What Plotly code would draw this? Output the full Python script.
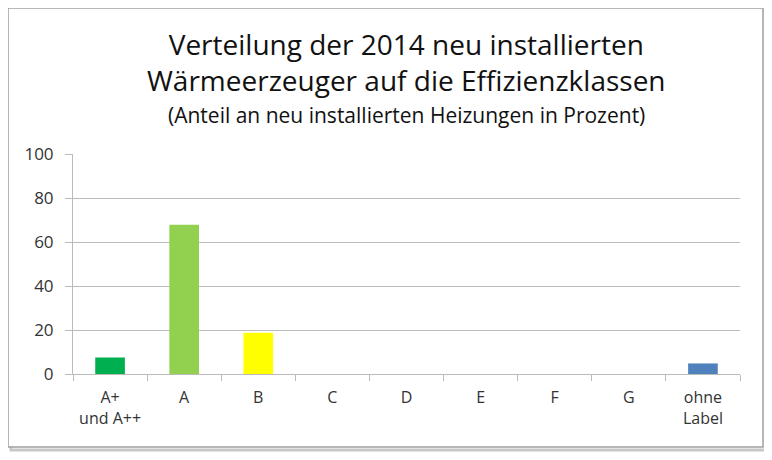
import plotly.graph_objects as go

klassen = ["A+<br>und A++", "A", "B", "C", "D", "E", "F", "G", "ohne<br>Label"]
anteil = [7.5, 67.8, 18.8, 0, 0, 0, 0, 0, 4.8]
farben = ["#00B050", "#92D050", "#FFFF00", "#4F81BD", "#4F81BD", "#4F81BD", "#4F81BD", "#4F81BD", "#4F81BD"]

titel = "Verteilung der 2014 neu installierten<br>Wärmeerzeuger auf die Effizienzklassen"
untertitel = "(Anteil an neu installierten Heizungen in Prozent)"

font_fam = "Open Sans, Arial, sans-serif"

# Seite hat 8px Rand -> Figur etwas kleiner, Koordinaten um 8 verschoben
W, H = 764, 452
L, T, PH = 65, 146, 220
R = 32
PW = W - L - R

fig = go.Figure(go.Bar(x=klassen, y=anteil, marker_color=farben, marker_line_width=0))

fig.update_layout(
    width=W, height=H,
    margin=dict(l=L, r=R, t=T, b=H - T - PH),
    paper_bgcolor="white", plot_bgcolor="white",
    bargap=0.6, showlegend=False,
    font=dict(family=font_fam, size=15, color="#333333"),
)
fig.update_yaxes(
    range=[0, 100], dtick=20, showgrid=True, gridcolor="#BBBBBB", gridwidth=1,
    showline=True, linecolor="#BBBBBB", ticks="outside", ticklen=7, tickcolor="#BBBBBB",
    zeroline=False, tickfont=dict(size=17), ticklabelstandoff=8,
)
fig.update_xaxes(
    showline=True, linecolor="#BBBBBB", ticks="outside", ticklen=6, tickcolor="#BBBBBB",
    tickson="boundaries", tickfont=dict(size=16), ticklabelstandoff=9,
)

def px_x(v): return (v - 8 - L) / PW
def px_y(v): return 1 - (v - 8 - T) / PH

# Überschrift
fig.add_annotation(
    text=titel, xref="paper", yref="paper", x=0.5, y=px_y(62),
    showarrow=False, xanchor="center", yanchor="middle",
    font=dict(family=font_fam, size=28, color="#111111"),
)
fig.add_annotation(
    text=untertitel, xref="paper", yref="paper", x=0.5, y=px_y(115),
    showarrow=False, xanchor="center", yanchor="middle",
    font=dict(family=font_fam, size=21, color="#111111"),
)

# Rahmen mit Schatten
fig.add_shape(type="rect", xref="paper", yref="paper",
              x0=px_x(11), x1=px_x(766), y0=px_y(450), y1=px_y(11),
              line=dict(color="#C8C8C8", width=3), fillcolor="rgba(0,0,0,0)", layer="below")
fig.add_shape(type="rect", xref="paper", yref="paper",
              x0=px_x(8), x1=px_x(763), y0=px_y(447), y1=px_y(8),
              line=dict(color="#A0A0A0", width=1.5), fillcolor="white", layer="below")

fig.write_html("out.html")
